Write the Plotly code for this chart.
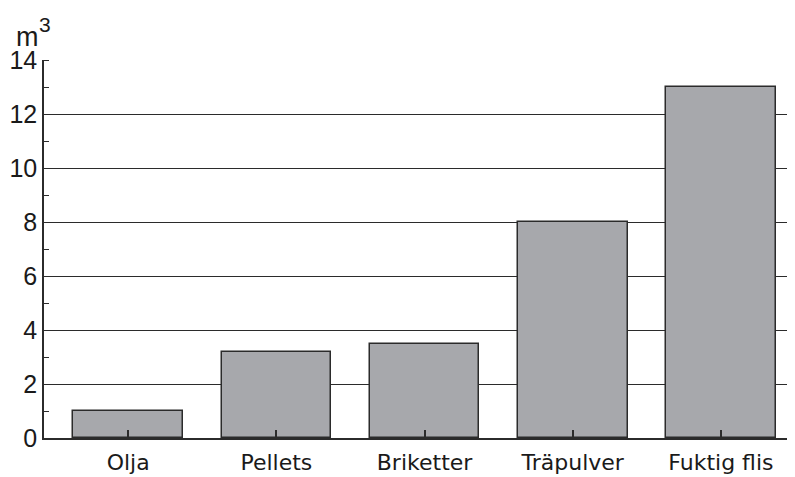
import plotly.graph_objects as go

categories = ["Olja", "Pellets", "Briketter", "Träpulver", "Fuktig flis"]
values = [1, 3.2, 3.5, 8, 13]
y_ticks = [0, 2, 4, 6, 8, 10, 12, 14]

fig = go.Figure()
fig.add_trace(go.Bar(
    x=categories, y=values, width=0.74,
    marker=dict(color="#a7a8ac", line=dict(color="#2b2b2b", width=1.5)),
))

# page body has an 8px default margin; figure is sized to compensate
fig.update_layout(
    width=787, height=469,
    margin=dict(l=36, r=0, t=52, b=39),
    paper_bgcolor="white", plot_bgcolor="white",
    font=dict(family="DejaVu Sans, sans-serif", size=22, color="#1a1a1a"),
    showlegend=False,
    bargap=0,
    xaxis=dict(
        range=[-0.568, 4.5],
        showline=True, linecolor="#2b2b2b", linewidth=1.5,
        ticks="inside", ticklen=8, tickcolor="#2b2b2b", tickwidth=1.5,
        showgrid=False, zeroline=False,
        ticklabelstandoff=4,
        tickfont=dict(family="DejaVu Sans, sans-serif", size=22),
    ),
    yaxis=dict(
        range=[0, 14],
        tickvals=y_ticks,
        showline=True, linecolor="#2b2b2b", linewidth=1.5,
        showgrid=True, gridcolor="#2b2b2b", gridwidth=1.3,
        zeroline=False, ticks="",
        minor=dict(dtick=1, ticks="inside", ticklen=5, tickcolor="#2b2b2b", tickwidth=1.3, showgrid=False),
        tickfont=dict(family="Liberation Sans, Arial, sans-serif", size=25),
    ),
    annotations=[
        dict(text="m", xref="paper", yref="paper",
             x=-0.040, y=1.062, xanchor="left", yanchor="middle",
             showarrow=False, font=dict(family="Liberation Sans, Arial, sans-serif", size=27)),
        dict(text="3", xref="paper", yref="paper",
             x=-0.0095, y=1.094, xanchor="left", yanchor="middle",
             showarrow=False, font=dict(family="Liberation Sans, Arial, sans-serif", size=21)),
    ],
)

fig.write_html("out.html")
